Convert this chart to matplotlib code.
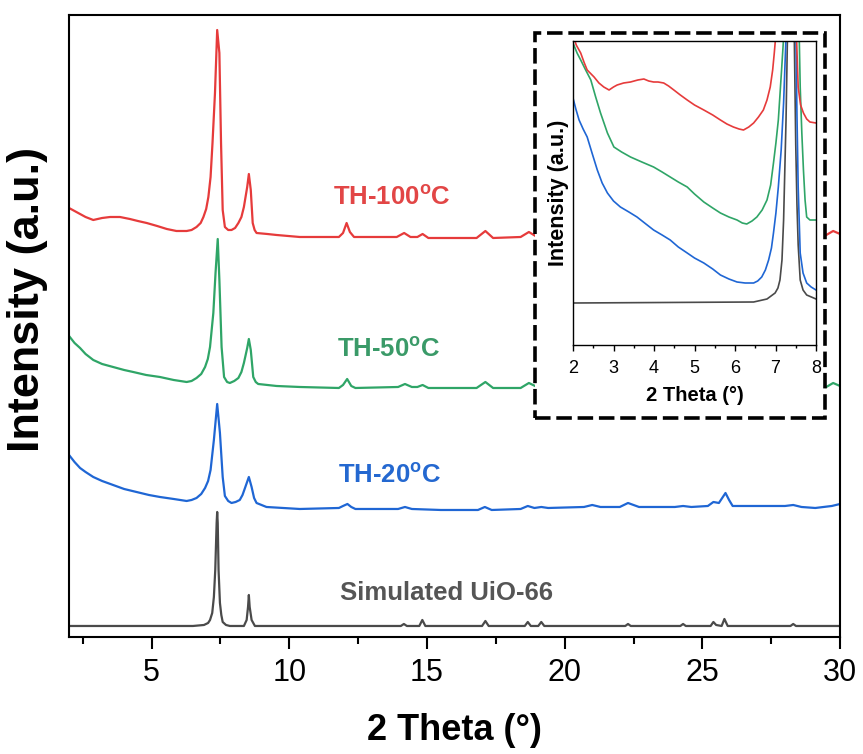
import matplotlib
matplotlib.use('Agg')
import matplotlib.pyplot as plt
from matplotlib.patches import Rectangle
from matplotlib.ticker import MultipleLocator

plt.rcParams['font.family'] = ['Liberation Sans', 'DejaVu Sans']
plt.rcParams['mathtext.fontset'] = 'custom'
plt.rcParams['mathtext.rm'] = 'Liberation Sans'
plt.rcParams['mathtext.bf'] = 'Liberation Sans:bold'
plt.rcParams['mathtext.it'] = 'Liberation Sans:italic'

# ---------------- data (2 theta, intensity a.u.) ----------------
red_pts = [(2.0, 429), (2.2, 426), (2.4, 423), (2.6, 420), (2.88, 417), (3.2, 419), (3.49, 420),
           (3.85, 420), (4.21, 418), (4.5, 416), (4.82, 414), (5.2, 411), (5.55, 408), (5.9, 406),
           (6.27, 406), (6.45, 407), (6.63, 410), (6.78, 414), (6.88, 420), (6.98, 428), (7.06, 440),
           (7.14, 460), (7.21, 494), (7.30, 544), (7.38, 607), (7.46, 584), (7.52, 494), (7.58, 427),
           (7.66, 410), (7.78, 407), (7.90, 407), (8.03, 409), (8.15, 414), (8.26, 420), (8.35, 430),
           (8.47, 450), (8.53, 463), (8.60, 447), (8.67, 414), (8.74, 407), (8.81, 404), (9.2, 403),
           (9.54, 402), (10.38, 400), (11.8, 400), (11.95, 404), (12.08, 414), (12.2, 405), (12.35, 400),
           (13.9, 400), (14.17, 404), (14.4, 400), (14.65, 400), (14.84, 403), (15.05, 399), (16.8, 399),
           (17.12, 406), (17.4, 399), (18.4, 400), (18.7, 405), (19.0, 400), (20.8, 400), (21.0, 402),
           (21.2, 400), (22.1, 400), (22.3, 403), (22.5, 400), (25.5, 401), (25.84, 408), (26.1, 400),
           (28.1, 400), (28.3, 402), (28.5, 400), (29.5, 402), (29.75, 406), (30.0, 403)]
green_pts = [(2.0, 301), (2.2, 294), (2.4, 289), (2.6, 283), (2.88, 277), (3.2, 273), (3.6, 270),
             (4.0, 267), (4.33, 265), (4.8, 262), (5.3, 260), (5.8, 257), (6.27, 255), (6.45, 256),
             (6.63, 259), (6.8, 263), (6.94, 270), (7.04, 278), (7.12, 290), (7.24, 324), (7.32, 364),
             (7.40, 398), (7.46, 357), (7.54, 290), (7.63, 260), (7.74, 255), (7.84, 254), (8.0, 256),
             (8.15, 259), (8.26, 265), (8.35, 274), (8.47, 289), (8.53, 298), (8.60, 287), (8.69, 260),
             (8.78, 255), (8.87, 253), (9.54, 251), (10.38, 250), (11.8, 249), (11.95, 252), (12.1, 258),
             (12.25, 251), (12.4, 249), (13.95, 250), (14.2, 253), (14.45, 250), (14.65, 250), (14.84, 252),
             (15.05, 249), (16.8, 249), (17.12, 255), (17.4, 249), (18.4, 249), (18.7, 254), (19.0, 250),
             (20.8, 249), (21.0, 251), (21.2, 249), (22.1, 249), (22.3, 252), (22.5, 249), (25.5, 250),
             (25.84, 256), (26.1, 249), (28.1, 249), (28.3, 251), (28.5, 249), (29.5, 250), (29.75, 254),
             (30.0, 251)]
blue_pts = [(2.0, 182), (2.2, 175), (2.4, 169), (2.6, 165), (2.88, 160), (3.2, 156), (3.6, 152),
            (4.0, 148), (4.45, 145), (4.9, 142), (5.3, 140), (5.8, 138), (6.27, 136), (6.45, 137),
            (6.63, 139), (6.8, 143), (6.94, 149), (7.05, 156), (7.14, 167), (7.26, 197), (7.38, 233),
            (7.48, 204), (7.58, 160), (7.66, 141), (7.78, 136), (7.90, 134), (8.05, 135), (8.2, 137),
            (8.3, 142), (8.39, 149), (8.53, 160), (8.63, 150), (8.72, 139), (8.81, 134), (9.17, 130),
            (10.38, 128), (11.8, 129), (11.95, 131), (12.11, 133), (12.25, 130), (12.4, 128), (13.95, 128),
            (14.2, 130), (14.45, 128), (15.5, 127), (16.85, 127), (17.1, 130), (17.35, 127), (18.4, 128),
            (18.66, 131), (18.9, 129), (19.15, 130), (19.4, 129), (20.7, 130), (21.0, 132), (21.3, 130),
            (22.0, 130), (22.3, 134), (22.7, 130), (24.0, 130), (24.3, 131), (24.6, 130), (25.2, 131),
            (25.4, 135), (25.6, 134), (25.72, 139), (25.84, 144), (25.97, 137), (26.1, 131), (28.0, 131),
            (28.3, 132), (28.6, 130), (29.1, 129), (29.7, 131), (30.0, 133)]
gray_pts = [(2.0, 11), (6.5, 11), (6.9, 12), (7.05, 14), (7.12, 17), (7.2, 24), (7.26, 40), (7.31, 67),
            (7.36, 114), (7.38, 125), (7.40, 114), (7.43, 67), (7.48, 34), (7.53, 22), (7.58, 15),
            (7.7, 12), (7.84, 11), (8.35, 11), (8.45, 17), (8.5, 30), (8.53, 42), (8.56, 30), (8.63, 17),
            (8.75, 11), (14.05, 11), (14.16, 13), (14.27, 11), (14.72, 11), (14.83, 17), (14.94, 11),
            (17.0, 11), (17.12, 16), (17.24, 11), (18.55, 11), (18.66, 15), (18.77, 11), (19.04, 11),
            (19.15, 15), (19.26, 11), (22.2, 11), (22.3, 13), (22.4, 11), (24.2, 11), (24.3, 13), (24.4, 11),
            (25.3, 11), (25.4, 15), (25.5, 12), (25.7, 11), (25.8, 18), (25.92, 11), (28.2, 11), (28.3, 13),
            (28.4, 11), (30.0, 11)]

# inset (2-8 deg zoom, separate vertical scale)
inset_red = [(2.0, 310), (2.08, 300), (2.19, 292), (2.27, 283), (2.35, 275), (2.52, 268), (2.64, 262),
             (2.76, 258), (2.89, 255), (3.0, 258), (3.09, 260), (3.25, 262), (3.42, 263), (3.6, 265),
             (3.75, 266), (3.87, 264), (3.99, 263), (4.1, 263), (4.24, 262), (4.36, 259), (4.49, 255),
             (4.65, 250), (4.82, 245), (5.0, 240), (5.23, 235), (5.45, 230), (5.64, 225), (5.8, 221),
             (5.96, 218), (6.1, 216), (6.21, 215), (6.34, 218), (6.46, 222), (6.58, 228), (6.70, 235),
             (6.79, 245), (6.87, 258), (6.93, 275), (6.97, 292), (7.05, 330), (7.38, 1000), (7.50, 330),
             (7.56, 258), (7.62, 240), (7.69, 232), (7.77, 226), (7.85, 223), (8.0, 222)]
inset_green = [(2.0, 302), (2.1, 292), (2.19, 285), (2.3, 276), (2.44, 265), (2.56, 248), (2.68, 232),
               (2.85, 212), (3.01, 198), (3.2, 193), (3.42, 188), (3.7, 183), (3.99, 178), (4.2, 173),
               (4.40, 168), (4.6, 163), (4.82, 158), (5.0, 151), (5.23, 143), (5.45, 137), (5.64, 132),
               (5.85, 128), (6.05, 125), (6.18, 122), (6.29, 121), (6.42, 124), (6.54, 128), (6.67, 135),
               (6.79, 145), (6.88, 160), (6.95, 182), (7.01, 202), (7.07, 225), (7.15, 275), (7.22, 320),
               (7.40, 1000), (7.58, 320), (7.61, 258), (7.65, 212), (7.69, 175), (7.73, 145), (7.77, 128),
               (7.85, 125), (8.0, 125)]
inset_blue = [(2.0, 247), (2.07, 236), (2.15, 225), (2.25, 216), (2.35, 208), (2.47, 192), (2.6, 175),
              (2.72, 162), (2.85, 152), (3.0, 144), (3.17, 138), (3.38, 133), (3.58, 128), (3.8, 121),
              (3.99, 115), (4.2, 110), (4.40, 105), (4.6, 98), (4.82, 92), (5.0, 87), (5.23, 82),
              (5.45, 76), (5.64, 70), (5.85, 66), (6.05, 63), (6.25, 62), (6.46, 62), (6.56, 64),
              (6.66, 68), (6.75, 75), (6.83, 85), (6.9, 97), (6.95, 112), (7.01, 132), (7.07, 158),
              (7.14, 195), (7.20, 242), (7.27, 320), (7.38, 1000), (7.50, 320), (7.53, 230), (7.56, 158),
              (7.61, 92), (7.68, 72), (7.77, 62), (7.88, 58), (8.0, 55)]
inset_gray = [(2.0, 42), (6.46, 43), (6.79, 46), (6.99, 52), (7.06, 57), (7.11, 65), (7.16, 85),
              (7.20, 125), (7.26, 225), (7.30, 320), (7.38, 1000), (7.46, 320), (7.50, 200), (7.53, 140),
              (7.56, 100), (7.61, 65), (7.68, 55), (7.77, 50), (8.0, 46)]

labels = ['TH-100$^{\\mathbf{o}}$C', 'TH-50$^{\\mathbf{o}}$C', 'TH-20$^{\\mathbf{o}}$C', 'Simulated UiO-66']
label_pos = [(11.58, 432), (11.73, 280), (11.76, 154), (11.84, 37)]
xticks_main = [5, 10, 15, 20, 25, 30]
xticks_inset = [2, 3, 4, 5, 6, 7, 8]

c_red, c_green, c_blue, c_gray = '#e63b3b', '#2fa567', '#1f66d4', '#4a4a4a'
t_red, t_green, t_blue, t_gray = '#e24646', '#3a9a68', '#2468d0', '#555555'

def xy(pts):
    return [p[0] for p in pts], [p[1] for p in pts]

fig = plt.figure(figsize=(8.63, 7.54), dpi=100)
ax = fig.add_axes([0.0800, 0.1552, 0.8934, 0.8249])
for pts, c in [(gray_pts, c_gray), (blue_pts, c_blue), (green_pts, c_green), (red_pts, c_red)]:
    x, y = xy(pts)
    ax.plot(x, y, color=c, lw=1.6, solid_joinstyle='round')
ax.set_xlim(2, 30)
ax.set_ylim(0, 622)
ax.set_xticks(xticks_main)
ax.xaxis.set_minor_locator(MultipleLocator(2.5))
ax.set_yticks([])
ax.tick_params(axis='x', which='major', direction='out', length=8.5, width=1.5, pad=6.5, labelsize=22)
ax.tick_params(axis='x', which='minor', direction='out', length=5, width=1.5)
for s in ax.spines.values():
    s.set_linewidth(1.5)
ax.set_xlabel('2 Theta (°)', fontsize=26, fontweight='bold', labelpad=18)
fig.text(28 / 863, 1 - 299 / 754, 'Intensity (a.u.)', rotation=90, ha='center', va='center',
         fontsize=32.5, fontweight='bold')

for (lx, ly), txt, c in zip(label_pos, labels, [t_red, t_green, t_blue, t_gray]):
    ax.text(lx, ly, txt, color=c, fontsize=18.5, fontweight='bold', ha='left', va='baseline')

# dashed inset frame with white background
W, H = 863, 754
fig.patches.append(Rectangle((535 / W, 1 - 418 / H), 290 / W, 385 / H, transform=fig.transFigure,
                             facecolor='white', edgecolor='black', lw=2.6, linestyle=(0, (4.3, 1.6)),
                             zorder=1))

ins = fig.add_axes([573 / W, 1 - 345 / H, 243 / W, 304 / H], zorder=3)
for pts, c in [(inset_gray, c_gray), (inset_blue, c_blue), (inset_green, c_green), (inset_red, c_red)]:
    x, y = xy(pts)
    ins.plot(x, y, color=c, lw=1.2)
ins.set_xlim(2, 8)
ins.set_ylim(0, 304)
ins.set_xticks(xticks_inset)
ins.xaxis.set_minor_locator(MultipleLocator(0.5))
ins.set_yticks([])
ins.tick_params(axis='x', which='major', direction='out', length=4, width=1, pad=7, labelsize=13)
ins.tick_params(axis='x', which='minor', direction='out', length=2.5, width=1)
for s in ins.spines.values():
    s.set_linewidth(1.0)
ins.set_xlabel('2 Theta (°)', fontsize=14.5, fontweight='bold', labelpad=6)
ins.set_ylabel('Intensity (a.u.)', fontsize=15.5, fontweight='bold', labelpad=3)

fig.savefig('out.png', dpi=100)
